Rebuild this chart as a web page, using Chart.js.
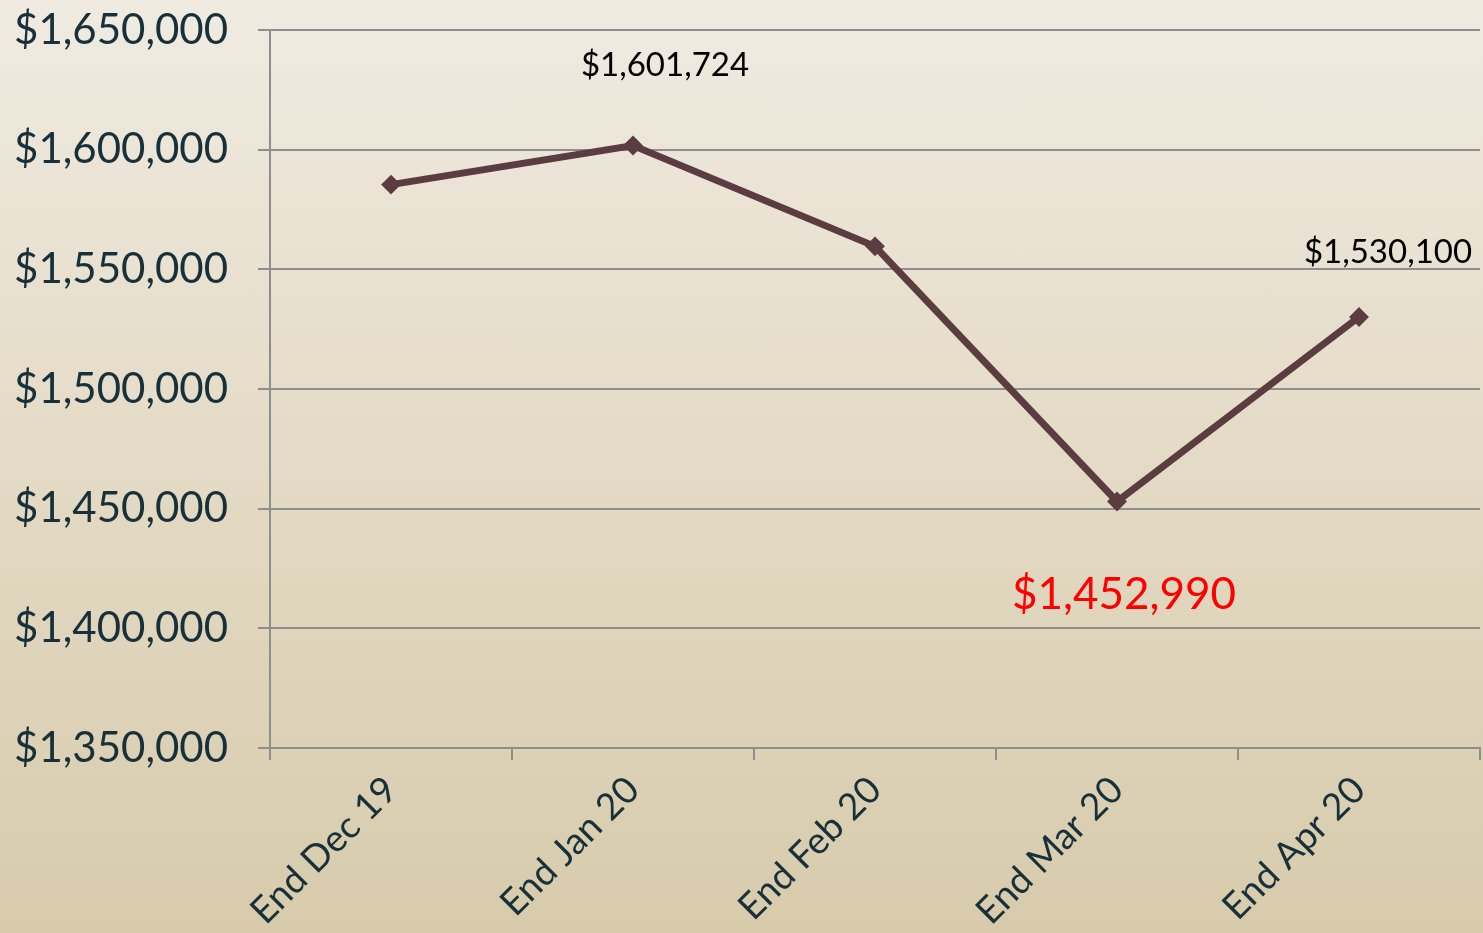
<!DOCTYPE html>
<html>
<head>
<meta charset="utf-8">
<script src="https://cdn.jsdelivr.net/npm/chart.js@4"></script>
<style>
  html, body { margin:0; padding:0; }
  body { width:1483px; height:933px; background:linear-gradient(to bottom, #f0ebe1 0%, #e5dcc8 45%, #d7cbab 100%); }
  #wrap { position:relative; width:1483px; height:933px; }
</style>
</head>
<body>
<div id="wrap"><canvas id="c"></canvas></div>
<script>
// ── Data ───────────────────────────────────────────────────────
const months   = ['End Dec 19', 'End Jan 20', 'End Feb 20', 'End Mar 20', 'End Apr 20'];
const balances = [1585400, 1601724, 1559600, 1452990, 1530100];
const yTicks   = [1350000, 1400000, 1450000, 1500000, 1550000, 1600000, 1650000];

// which points get a value label, and how it's drawn
const callouts = [
  { idx:1, dx:32, dy:-70, color:'#000000', size:33 },
  { idx:3, dx:7,  dy:107, color:'#ff0000', size:44 },
  { idx:4, dx:29, dy:-54, color:'#000000', size:33 },
];

const FONT = 'Lato, "Open Sans", sans-serif';
const fmt  = v => '$' + v.toLocaleString('en-US');

const calloutPlugin = {
  id:'callouts',
  afterDatasetsDraw(chart) {
    const { ctx, scales:{ x, y } } = chart;
    ctx.save();
    ctx.textAlign = 'center';
    ctx.textBaseline = 'alphabetic';
    callouts.forEach(c => {
      const px = x.getPixelForValue(c.idx), py = y.getPixelForValue(balances[c.idx]);
      ctx.font = `${c.size}px ${FONT}`;
      ctx.fillStyle = c.color;
      ctx.fillText(fmt(balances[c.idx]), px + c.dx, py + c.dy);
    });
    ctx.restore();
  }
};

new Chart(document.getElementById('c'), {
  type:'line',
  data:{ labels:months, datasets:[{
    data:balances, borderColor:'#5b3c41', backgroundColor:'#5b3c41',
    borderWidth:7, tension:0, pointStyle:'rectRot', pointRadius:5, pointHoverRadius:5
  }]},
  options:{
    responsive:true, maintainAspectRatio:false, animation:false,
    layout:{ autoPadding:false, padding:{ top:30, right:3, left:12, bottom:0 } },
    plugins:{ legend:{ display:false }, tooltip:{ enabled:false } },
    scales:{
      x:{
        offset:true,
        grid:{ offset:true, drawOnChartArea:false, color:'#8e8e8e', lineWidth:2, tickLength:12 },
        border:{ color:'#8e8e8e', width:2 },
        ticks:{ color:'#17303a', font:{ family:FONT, size:37 }, minRotation:45, maxRotation:45, padding:8 },
        afterFit:s => { s.height = 185; s.paddingLeft = 0; s.paddingRight = 0; }
      },
      y:{
        min:1350000, max:1650000,
        afterBuildTicks:s => { s.ticks = yTicks.map(v => ({ value:v })); },
        grid:{ color:'#8e8e8e', lineWidth:2, tickLength:12 },
        border:{ color:'#8e8e8e', width:2 },
        ticks:{ color:'#17303a', font:{ family:FONT, size:42 }, padding:30, callback:v => fmt(v) },
        afterFit:s => { s.width = 258; s.paddingTop = 0; s.paddingBottom = 0; }
      }
    }
  },
  plugins:[calloutPlugin]
});
</script>
</body>
</html>
